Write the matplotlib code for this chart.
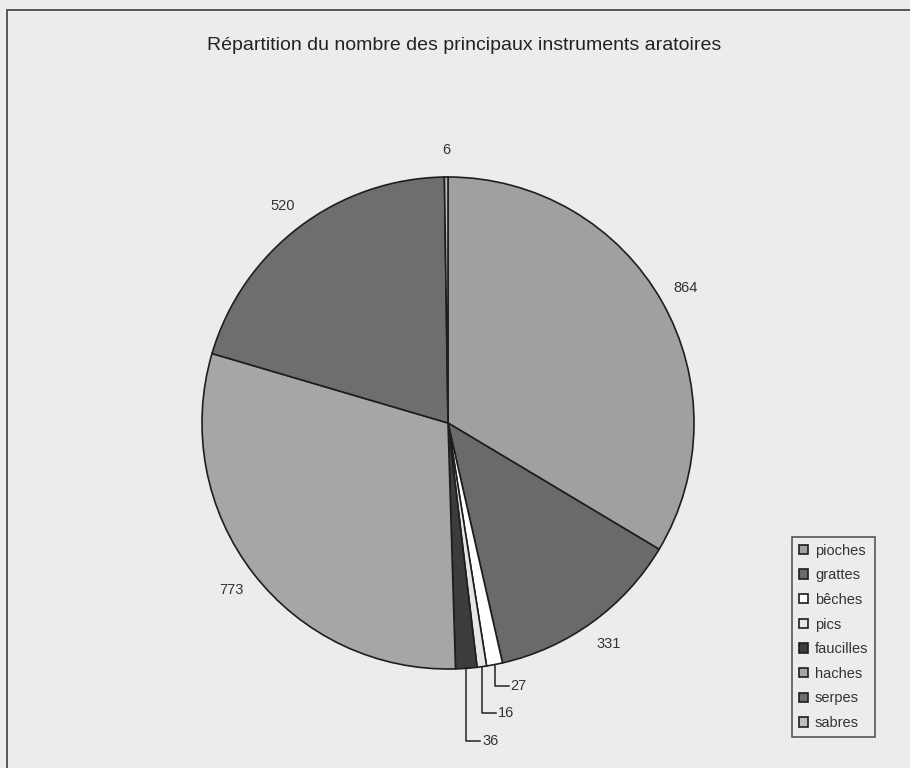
import numpy as np
import matplotlib
matplotlib.use("Agg")
import matplotlib.pyplot as plt
from matplotlib.patches import Rectangle

#data
names = ["pioches", "grattes", "bêches", "pics", "faucilles", "haches", "serpes", "sabres"]
counts = [864, 331, 27, 16, 36, 773, 520, 6]
colors = ["#a0a0a0", "#6a6a6a", "#ffffff", "#e6e6e6", "#3c3c3c", "#a6a6a6", "#6e6e6e", "#bdbdbd"]
title = "Répartition du nombre des principaux instruments aratoires"

#small slices get a leader line, label y in pixels from top
leader_y = {"bêches": 686, "pics": 713, "faucilles": 741}

plt.rcParams["font.family"] = ["Liberation Sans", "DejaVu Sans"]
bg = "#ececec"

fig = plt.figure(figsize=(9.1, 7.68), dpi=100, facecolor=bg)
ax = fig.add_axes([0, 0, 1, 1])
ax.set_facecolor(bg)

H = 768
cx, cy, R = 448, H - 423, 246
wedges, _ = ax.pie(counts, startangle=90, counterclock=False, colors=colors,
                   center=(cx, cy), radius=R,
                   wedgeprops=dict(edgecolor="#1e1e1e", linewidth=1.2))

#value labels
for w, name, v in zip(wedges, names, counts):
    ang = np.deg2rad((w.theta1 + w.theta2) / 2.0)
    if name in leader_y:
        xe = cx + R * np.cos(ang)
        ye = cy + R * np.sin(ang)
        yl = H - leader_y[name]
        ax.plot([xe, xe, xe + 14], [ye, yl, yl], color="#222222", lw=1.1)
        ax.text(xe + 16, yl, str(v), ha="left", va="center", fontsize=10.5, color="#333333")
    else:
        d = R * 1.11
        ax.text(cx + d * np.cos(ang), cy + d * np.sin(ang), str(v),
                ha="center", va="center", fontsize=10.5, color="#333333")

ax.set_xlim(0, 910)
ax.set_ylim(0, H)
ax.axis("off")

#outer frame
ax.add_patch(Rectangle((7, -20), 1000, H - 10 + 20, fill=False, edgecolor="#555555", lw=1.4))

ax.text(464, H - 46, title, ha="center", va="center", fontsize=14, color="#222222")

leg = ax.legend(wedges, names, loc="upper left", bbox_to_anchor=(792 / 910, 1 - 537 / H),
                bbox_transform=fig.transFigure, fontsize=10.5, frameon=True, fancybox=False,
                handlelength=0.62, handleheight=0.62, handletextpad=0.5, labelspacing=0.73,
                borderpad=0.45, borderaxespad=0)
leg.get_frame().set_edgecolor("#222222")
leg.get_frame().set_facecolor(bg)
leg.get_frame().set_linewidth(1.1)
for t in leg.get_texts():
    t.set_color("#333333")

fig.savefig("out.png", dpi=100, facecolor=bg)
